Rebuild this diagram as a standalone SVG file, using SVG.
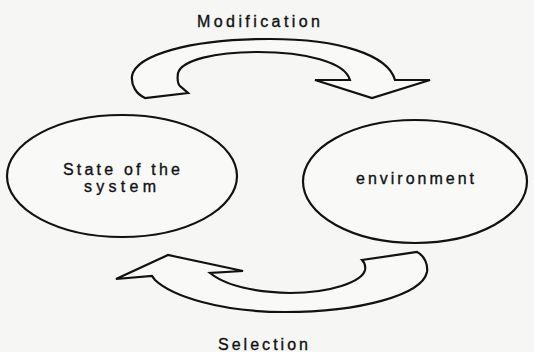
<svg xmlns="http://www.w3.org/2000/svg" width="534" height="352" viewBox="0 0 534 352">
<style>
.bg{fill:#f6f6f4}
.shape{fill:#ffffff;fill-opacity:0.35;stroke:#111;stroke-width:2.2;stroke-linejoin:miter}
.lbl{font-family:"Liberation Sans",Arial,sans-serif;font-size:16px;fill:#111;stroke:#111;stroke-width:0.35;text-anchor:start}
</style>
<rect class="bg" x="0" y="0" width="534" height="352"/>
<g id="node-state">
<ellipse class="shape" cx="122" cy="176" rx="115" ry="61"/>
<text class="lbl" x="63" y="175" textLength="117" lengthAdjust="spacing">State of the</text>
<text class="lbl" x="84" y="192" textLength="72" lengthAdjust="spacing">system</text>
</g>
<g id="node-environment">
<ellipse class="shape" cx="415" cy="181.5" rx="112" ry="61.5"/>
<text class="lbl" x="356" y="184" textLength="118" lengthAdjust="spacing">environment</text>
</g>
<g id="connectors">
<g id="modification">
<path class="shape" d="M145,98 C136,94 131,85 132,76 C136,55 190,39 270,39 C340,39 388,55 395,80 L430,80 L372,98 L315,80 L350,80 C345,62 305,52 258,52 C215,52 182,60 178,73 C177,80 178,85 181,87 L188,93 Z"/>
<text class="lbl" x="197" y="27" textLength="123" lengthAdjust="spacing">Modification</text>
</g>
<g id="selection">
<path class="shape" d="M116,279 L168,255 L243,271 L210,273 C225,285 250,292 290,293 C330,293 362,282 365,270 C366,265 364,262 362,260 L417,252 C425,256 428,265 427,272 C422,295 360,312 285,312 C220,312 172,296 155,280 L152,276 Z"/>
<text class="lbl" x="218" y="350" textLength="90" lengthAdjust="spacing">Selection</text>
</g>
</g>
</svg>
